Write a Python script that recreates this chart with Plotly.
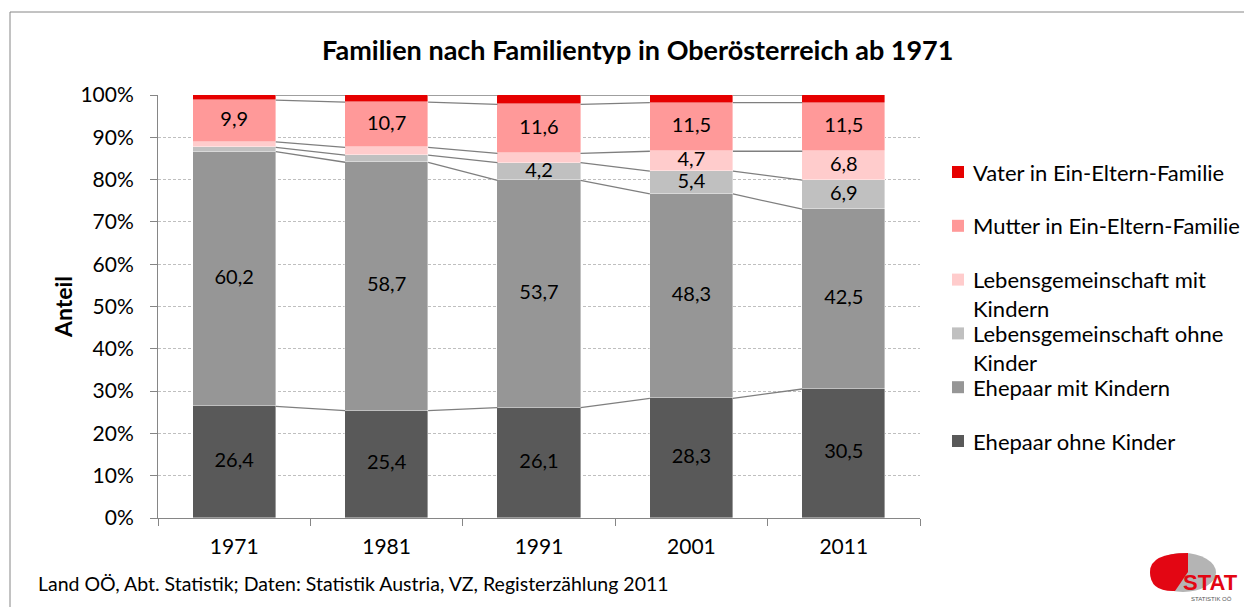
import plotly.graph_objects as go

# ---------------- data ----------------
years = ["1971", "1981", "1991", "2001", "2011"]
series_names = [
    "Ehepaar ohne Kinder",
    "Ehepaar mit Kindern",
    "Lebensgemeinschaft ohne Kinder",
    "Lebensgemeinschaft mit Kindern",
    "Mutter in Ein-Eltern-Familie",
    "Vater in Ein-Eltern-Familie",
]
ehepaar_ohne = [26.4, 25.4, 26.1, 28.3, 30.5]
ehepaar_mit = [60.2, 58.7, 53.7, 48.3, 42.5]
lg_ohne = [1.0, 1.7, 4.2, 5.4, 6.9]
lg_mit = [1.3, 1.8, 2.2, 4.7, 6.8]
mutter = [9.9, 10.7, 11.6, 11.5, 11.5]
vater = [1.2, 1.7, 2.2, 1.8, 1.8]
y_ticks = [0, 10, 20, 30, 40, 50, 60, 70, 80, 90, 100]
y_tick_labels = [f"{v}%" for v in y_ticks]
legend_lines = [
    ["Vater in Ein-Eltern-Familie"],
    ["Mutter in Ein-Eltern-Familie"],
    ["Lebensgemeinschaft mit", "Kindern"],
    ["Lebensgemeinschaft ohne", "Kinder"],
    ["Ehepaar mit Kindern"],
    ["Ehepaar ohne Kinder"],
]
title_text = "Familien nach Familientyp in Oberösterreich ab 1971"
footer_text = "Land OÖ, Abt. Statistik; Daten: Statistik Austria, VZ, Registerzählung 2011"

series_values = [ehepaar_ohne, ehepaar_mit, lg_ohne, lg_mit, mutter, vater]
colors = ["#595959", "#969696", "#c0c0c0", "#ffcccc", "#ff9999", "#e60000"]

# ---------------- layout geometry ----------------
OFF = 8                      # page body margin of the html page
W, H = 1252 - OFF, 607 - OFF
L, R, T, B = 158 - OFF, 920 - OFF, 95 - OFF, 518 - OFF
BAR_W = 0.545
FONT = "Lato"


def px_x(px):
    """reference-window pixel x -> paper coordinate"""
    return (px - OFF - L) / (R - L)


def px_y(py):
    """reference-window pixel y -> paper coordinate"""
    return (B - (py - OFF)) / (B - T)


xs = list(range(len(years)))
fig = go.Figure()

# stacked bars
for name, vals, col in zip(series_names, series_values, colors):
    fig.add_trace(go.Bar(
        x=xs, y=vals, name=name, width=BAR_W,
        marker=dict(color=col, line=dict(width=0.8, color="rgba(255,255,255,0.5)")),
        showlegend=False, hoverinfo="x+y+name",
    ))

# cumulative tops
running = [0.0] * len(years)
bottoms, cum = [], []
for vals in series_values:
    bottoms.append(list(running))
    running = [r + v for r, v in zip(running, vals)]
    cum.append(list(running))

# series lines between adjacent bars
for tops in cum:
    lx, ly = [], []
    for i in range(len(years) - 1):
        lx += [xs[i] + BAR_W / 2, xs[i + 1] - BAR_W / 2, None]
        ly += [tops[i], tops[i + 1], None]
    fig.add_trace(go.Scatter(
        x=lx, y=ly, mode="lines", line=dict(color="#7f7f7f", width=1.3),
        showlegend=False, hoverinfo="skip",
    ))

# data labels
for vals, bots in zip(series_values, bottoms):
    tx, ty, tt = [], [], []
    for i, v in enumerate(vals):
        if v >= 3:
            tx.append(xs[i])
            ty.append(bots[i] + v / 2)
            tt.append(f"{v:.1f}".replace(".", ","))
    fig.add_trace(go.Scatter(
        x=tx, y=ty, text=tt, mode="text",
        textfont=dict(family=FONT, size=20, color="#000000"),
        showlegend=False, hoverinfo="skip",
    ))

shapes = []
annotations = []

# outer frame
shapes.append(dict(type="rect", xref="paper", yref="paper",
                   x0=px_x(10), x1=px_x(1247), y0=px_y(620), y1=px_y(12),
                   line=dict(color="#868686", width=1), fillcolor="rgba(0,0,0,0)"))

# title
annotations.append(dict(text="<b>" + title_text + "</b>", xref="paper", yref="paper",
                        x=px_x(637), y=px_y(50), xanchor="center", yanchor="middle",
                        showarrow=False, font=dict(family=FONT, size=27, color="#000000")))

# y axis title
annotations.append(dict(text="<b>Anteil</b>", xref="paper", yref="paper",
                        x=px_x(63), y=px_y(307), xanchor="center", yanchor="middle",
                        textangle=-90, showarrow=False,
                        font=dict(family=FONT, size=23, color="#000000")))

# footer
annotations.append(dict(text=footer_text, xref="paper", yref="paper",
                        x=px_x(36), y=px_y(583), xanchor="left", yanchor="middle",
                        showarrow=False, font=dict(family=FONT, size=19.5, color="#000000")))

# custom legend (reversed order, Vater on top)
leg_colors = list(reversed(colors))
for k, (lines, col) in enumerate(zip(legend_lines, leg_colors)):
    cy = 172 + 53.8 * k
    shapes.append(dict(type="rect", xref="paper", yref="paper",
                       x0=px_x(952), x1=px_x(964), y0=px_y(cy + 6), y1=px_y(cy - 6),
                       line=dict(width=0), fillcolor=col))
    for j, line in enumerate(lines):
        annotations.append(dict(text=line, xref="paper", yref="paper",
                                x=px_x(971), y=px_y(cy + 29 * j),
                                xanchor="left", yanchor="middle", showarrow=False,
                                font=dict(family=FONT, size=22, color="#000000")))

# logo (approximation)
shapes.append(dict(type="circle", xref="paper", yref="paper",
                   x0=px_x(1150), x1=px_x(1216), y0=px_y(592), y1=px_y(553),
                   line=dict(width=0), fillcolor="#b4b4b4"))
shapes.append(dict(type="path", xref="paper", yref="paper",
                   path=(f"M {px_x(1188)},{px_y(553)} "
                         f"Q {px_x(1150)},{px_y(553)} {px_x(1150)},{px_y(572)} "
                         f"Q {px_x(1150)},{px_y(592)} {px_x(1175)},{px_y(591)} "
                         f"L {px_x(1188)},{px_y(572)} Z"),
                   line=dict(width=0), fillcolor="#e30613"))
annotations.append(dict(text="<b>STAT</b>", xref="paper", yref="paper",
                        x=px_x(1210), y=px_y(582), xanchor="center", yanchor="middle",
                        showarrow=False, font=dict(family="Liberation Sans", size=22, color="#e30613")))
annotations.append(dict(text="STATISTIK OÖ", xref="paper", yref="paper",
                        x=px_x(1211), y=px_y(599), xanchor="center", yanchor="middle",
                        showarrow=False, font=dict(family="Liberation Sans", size=6, color="#555555")))

fig.update_layout(
    width=W, height=H,
    margin=dict(l=L, r=W - R, t=T, b=H - B, pad=0),
    paper_bgcolor="#ffffff", plot_bgcolor="#ffffff",
    barmode="stack", bargap=0,
    showlegend=False,
    shapes=shapes, annotations=annotations,
    font=dict(family=FONT, color="#000000"),
    xaxis=dict(
        range=[-0.5, len(years) - 0.5], tickvals=xs, ticktext=years,
        ticks="", showgrid=False, zeroline=False,
        showline=True, linecolor="#868686", linewidth=1,
        tickfont=dict(family=FONT, size=21, color="#000000"),
        ticklabelstandoff=10,
        minor=dict(tickvals=[i - 0.5 for i in range(len(years) + 1)],
                   ticks="outside", ticklen=7, tickcolor="#868686", tickwidth=1,
                   showgrid=False),
        fixedrange=True,
    ),
    yaxis=dict(
        range=[0, 100], tickmode="array", tickvals=y_ticks, ticktext=y_tick_labels,
        ticks="outside", ticklen=7, tickcolor="#868686", tickwidth=1,
        showgrid=True, gridcolor="#bfbfbf", gridwidth=1, griddash="3px,2px",
        zeroline=False, showline=True, linecolor="#868686", linewidth=1,
        tickfont=dict(family=FONT, size=21, color="#000000"),
        ticklabelstandoff=12,
        fixedrange=True,
    ),
)

fig.write_html("out.html")
